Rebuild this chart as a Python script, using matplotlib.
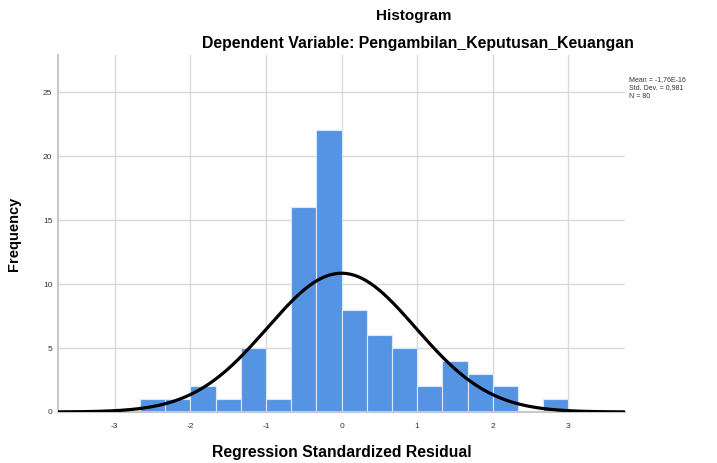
import numpy as np
import matplotlib
matplotlib.use("Agg")
import matplotlib.pyplot as plt

# histogram data (bin width 1/3)
bin_edges = [-8/3, -7/3, -2, -5/3, -4/3, -1, -2/3, -1/3, 0, 1/3, 2/3, 1, 4/3, 5/3, 2, 7/3, 8/3, 3]
counts = [1, 1, 2, 1, 5, 1, 16, 22, 8, 6, 5, 2, 4, 3, 2, 0, 1]
mean = -1.76e-16
std_dev = 0.981
n = 80
x_ticks = [-3, -2, -1, 0, 1, 2, 3]
y_ticks = [0, 5, 10, 15, 20, 25]

plt.rcParams["font.family"] = ["Liberation Sans", "DejaVu Sans"]

fig = plt.figure(figsize=(7.17, 4.63), dpi=100)
ax = fig.add_axes([0.0809, 0.1102, 0.7908, 0.7710])

lefts = np.array(bin_edges[:-1])
widths = np.diff(bin_edges)
ax.bar(lefts, counts, width=widths, align="edge", color="#5594E2",
       edgecolor="#DCE8F7", linewidth=0.8, zorder=2)

# normal curve scaled to counts
xs = np.linspace(-3.75, 3.75, 400)
bw = widths[0]
ys = n * bw / (std_dev * np.sqrt(2 * np.pi)) * np.exp(-0.5 * ((xs - mean) / std_dev) ** 2)
ax.plot(xs, ys, color="black", linewidth=2.3, zorder=3)

ax.set_xlim(-3.75, 3.75)
ax.set_ylim(0, 27.9)
ax.set_xticks(x_ticks)
ax.set_yticks(y_ticks)
ax.set_xticklabels([str(t) for t in x_ticks])
ax.set_yticklabels([str(t) for t in y_ticks])
ax.tick_params(length=0, labelsize=6, colors="#333333")
ax.tick_params(axis="x", pad=8)
ax.tick_params(axis="y", pad=4)
ax.grid(True, color="#D9D9D9", linewidth=1, zorder=0)
ax.set_axisbelow(True)
for s in ["top", "right"]:
    ax.spines[s].set_visible(False)
ax.spines["left"].set_color("#C8C8C8")
ax.spines["left"].set_linewidth(1.5)
ax.spines["bottom"].set_color("#C8C8C8")
ax.spines["bottom"].set_linewidth(1.5)

ax.set_xlabel("Regression Standardized Residual", fontsize=11.3, fontweight="bold", labelpad=11)
ax.set_ylabel("Frequency", fontsize=10.5, fontweight="bold", labelpad=16)

fig.text(0.577, 0.966, "Histogram", ha="center", va="center", fontsize=11, fontweight="bold")
fig.text(0.583, 0.907, "Dependent Variable: Pengambilan_Keputusan_Keuangan", ha="center",
         va="center", fontsize=11.4, fontweight="bold")

fig.text(0.877, 0.81, "Mean = -1,76E-16\nStd. Dev. = 0,981\nN = 80", ha="left", va="center",
         fontsize=5.0, color="#333333", linespacing=1.25)

fig.savefig("out.png", dpi=100)
